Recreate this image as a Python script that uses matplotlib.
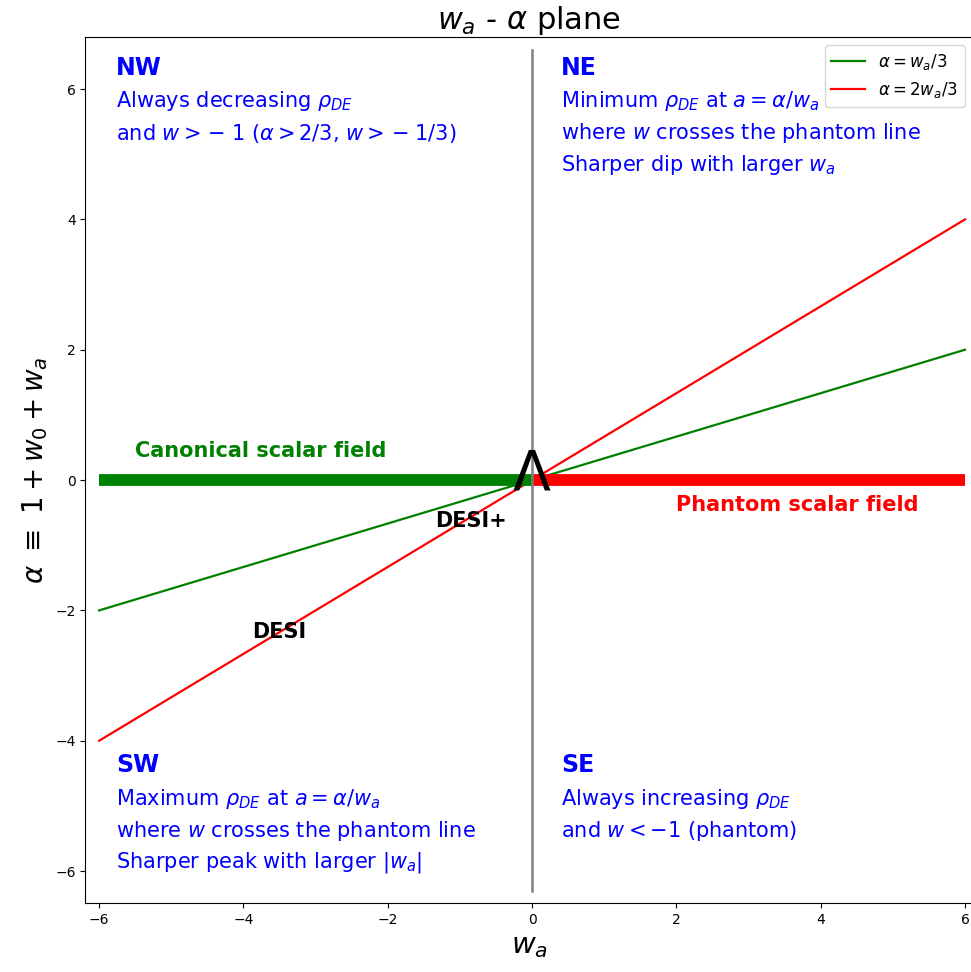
import numpy as np
from matplotlib import pyplot as plt

# data
wa_range = [-6, 6]
slopes = [1/3, 2/3]
line_labels = [r'$\alpha = w_a/3$', r'$\alpha = 2w_a/3$']
line_colors = ['green', 'red']

canonical_x = [-6, 0]
phantom_x = [0, 6]
vline_y = [-6.3, 6.6]

desi_labels = ['DESI+', 'DESI']
desi_x = [-0.85, -3.5]
desi_y = [-0.63, -2.33]

quad_titles = ['NW', 'NE', 'SW', 'SE']
quad_x = [-5.77, 0.4, -5.77, 0.4]
quad_y = [6.33, 6.33, -4.37, -4.37]
quad_lines = [
    [r'Always decreasing $\rho_{DE}$',
     r'and $w > \,{-}\;1$ ($\alpha > 2/3$, $w > \,{-}\;1/3$)'],
    [r'Minimum $\rho_{DE}$ at $a = \alpha/w_a$',
     r'where $w$ crosses the phantom line',
     r'Sharper dip with larger $w_a$'],
    [r'Maximum $\rho_{DE}$ at $a = \alpha/w_a$',
     r'where $w$ crosses the phantom line',
     r'Sharper peak with larger $|w_a|$'],
    [r'Always increasing $\rho_{DE}$',
     r'and $w < -1$ (phantom)'],
]

fig = plt.figure(figsize=(9.71, 9.72), dpi=100)
ax = fig.add_axes([0.088, 0.071, 0.914, 0.891])

x = np.array(wa_range)
for s, lab, c in zip(slopes, line_labels, line_colors):
    ax.plot(x, s * x, color=c, lw=1.6, label=lab)

ax.plot(canonical_x, [0, 0], color='green', lw=8.5, solid_capstyle='butt')
ax.plot(phantom_x, [0, 0], color='red', lw=8.5, solid_capstyle='butt')
ax.plot([0, 0], vline_y, color='grey', lw=1.8)

ax.text(0, 0.08, r'$\Lambda$', fontsize=40, ha='center', va='center', color='black')
ax.text(-5.5, 0.45, 'Canonical scalar field', color='green', fontsize=15,
        fontweight='bold', va='center')
ax.text(2.0, -0.39, 'Phantom scalar field', color='red', fontsize=15,
        fontweight='bold', va='center')
for lab, xx, yy in zip(desi_labels, desi_x, desi_y):
    ax.text(xx, yy, lab, fontsize=15, fontweight='bold', ha='center', va='center')

for t, xx, yy, lines in zip(quad_titles, quad_x, quad_y, quad_lines):
    ax.text(xx, yy, t, color='blue', fontsize=17, fontweight='bold', va='center')
    for i, ln in enumerate(lines):
        ax.text(xx, yy - 0.52 - 0.49 * i, ln, color='blue', fontsize=15, va='center')

ax.set_xlim(-6.19, 6.11)
ax.set_ylim(-6.49, 6.8)
ax.set_xticks([-6, -4, -2, 0, 2, 4, 6])
ax.set_yticks([-6, -4, -2, 0, 2, 4, 6])
ax.tick_params(labelsize=10)
ax.set_xlabel(r'$w_a$', fontsize=21)
ax.set_ylabel(r'$\alpha\ \equiv\ 1 + w_0 + w_a$', fontsize=20)
ax.set_title(r'$w_a$ - $\alpha$ plane', fontsize=22, pad=4)
ax.legend(loc='upper right', fontsize=12)

fig.savefig('out.png', dpi=100)
